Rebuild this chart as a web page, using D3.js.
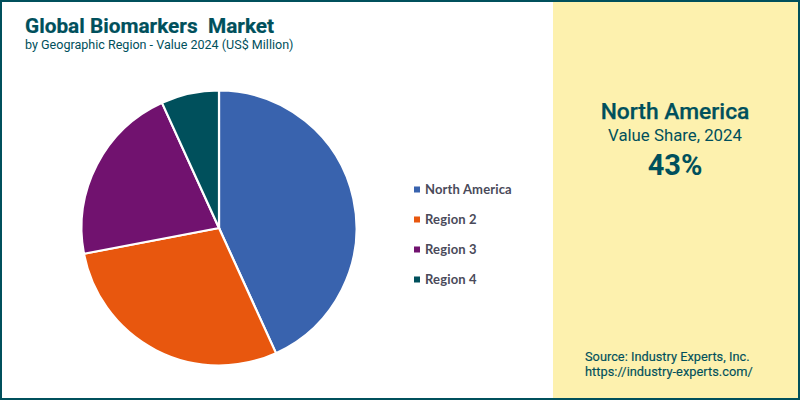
<!DOCTYPE html>
<html><head><meta charset="utf-8">
<script src="https://cdn.jsdelivr.net/npm/d3@7"></script>
<style>html,body{margin:0;padding:0;background:#fff}svg{display:block}text{font-family:Roboto,sans-serif}</style>
</head><body><div id="c"></div>
<script>
const categories = ["North America","Region 2","Region 3","Region 4"];
const shares = [43.2,28.8,21.2,6.8];
const colors = ["#3963AE","#E8570E","#71126F","#00505C"];
const teal = "#00505C";
const svg = d3.select("#c").append("svg").attr("width",800).attr("height",400);
svg.append("rect").attr("width",800).attr("height",400).attr("fill","#fff");
svg.append("rect").attr("x",553).attr("y",0).attr("width",247).attr("height",400).attr("fill","#FDF1AE");
svg.append("rect").attr("x",1).attr("y",1).attr("width",798).attr("height",398).attr("fill","none").attr("stroke",teal).attr("stroke-width",2);

svg.append("text").attr("x",25).attr("y",33).attr("font-size",20.8).attr("font-weight",700).attr("fill",teal).attr("stroke",teal).attr("stroke-width",0.2).style("white-space","pre").text("Global Biomarkers  Market");
svg.append("text").attr("x",25).attr("y",49).attr("font-size",12.55).attr("fill",teal).text("by Geographic Region - Value 2024 (US$ Million)");

const pie = d3.pie().sort(null).value(d=>d);
const arc = d3.arc().innerRadius(0).outerRadius(137.5);
svg.append("g").attr("transform","translate(219,228)").selectAll("path").data(pie(shares)).join("path")
  .attr("d",arc).attr("fill",(d,i)=>colors[i]).attr("stroke","#fff").attr("stroke-width",2.2);

const legendY = d3.scalePoint().domain(categories).range([189.5,279.5]);
const lg = svg.append("g").selectAll("g").data(categories).join("g").attr("transform",d=>`translate(0,${legendY(d)})`);
lg.append("rect").attr("x",414).attr("y",-3).attr("width",6).attr("height",6).attr("fill",(d,i)=>colors[i]);
lg.append("text").attr("x",425).attr("y",4.5).style("font-family","Lato,sans-serif").attr("font-size",13).attr("font-weight",700).attr("fill","#4A4A5A").attr("letter-spacing",0.15).text(d=>d);

const cx = 675;
svg.append("text").attr("x",cx).attr("y",119.3).attr("text-anchor","middle").attr("font-size",22.8).attr("font-weight",500).attr("fill",teal).attr("stroke",teal).attr("stroke-width",0.25).text(categories[0]);
svg.append("text").attr("x",cx).attr("y",140.5).attr("text-anchor","middle").attr("font-size",16.8).attr("fill",teal).text("Value Share, 2024");
svg.append("text").attr("x",cx).attr("y",175).attr("text-anchor","middle").attr("font-size",29).attr("font-weight",700).attr("fill",teal).text("43%");
svg.append("text").attr("x",585).attr("y",361).attr("font-size",12.75).attr("fill",teal).attr("stroke",teal).attr("stroke-width",0.15).attr("letter-spacing",0.02).text("Source: Industry Experts, Inc.");
svg.append("text").attr("x",585).attr("y",376).attr("font-size",12.8).attr("fill",teal).attr("stroke",teal).attr("stroke-width",0.15).attr("letter-spacing",0.02).text("https://industry-experts.com/");
</script></body></html>
